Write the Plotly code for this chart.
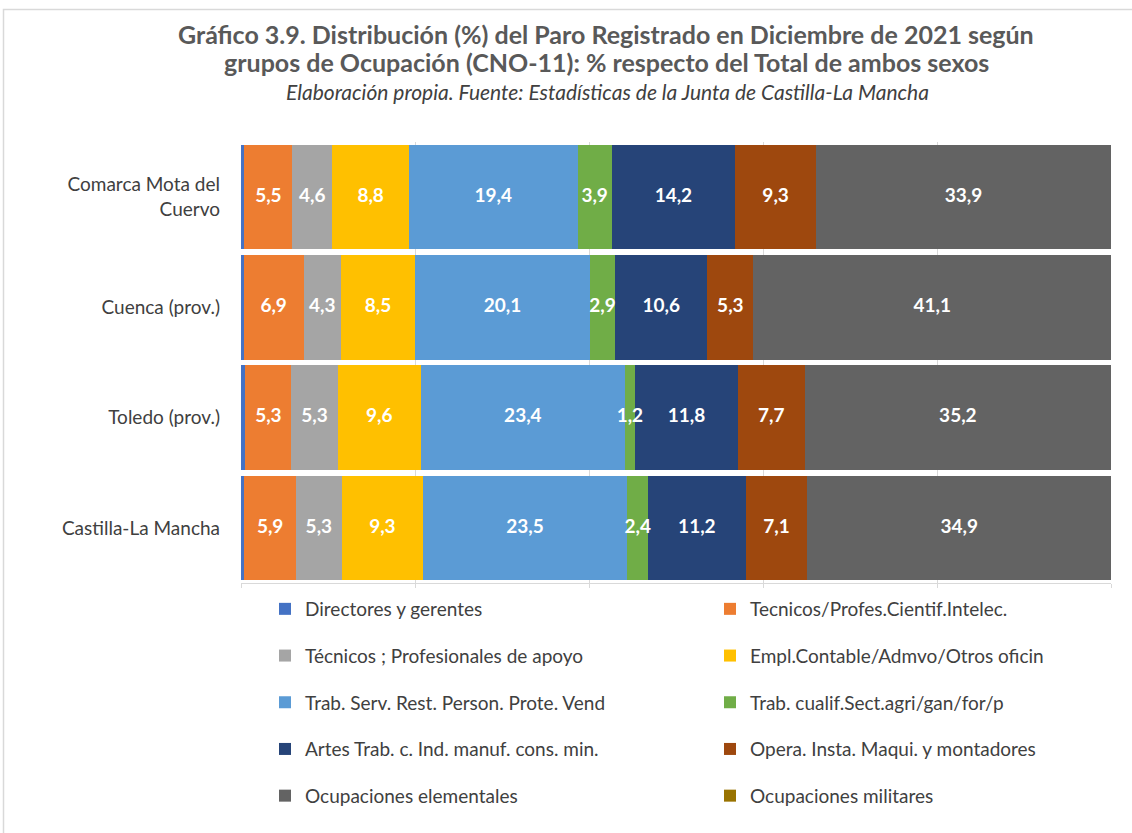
import plotly.graph_objects as go

categories = ["Comarca Mota del<br>Cuervo", "Cuenca (prov.)", "Toledo (prov.)", "Castilla-La Mancha"]

series_names = [
    "Directores y gerentes",
    "Tecnicos/Profes.Cientif.Intelec.",
    "Técnicos ; Profesionales de apoyo",
    "Empl.Contable/Admvo/Otros oficin",
    "Trab. Serv. Rest. Person. Prote. Vend",
    "Trab. cualif.Sect.agri/gan/for/p",
    "Artes Trab. c. Ind. manuf. cons. min.",
    "Opera. Insta. Maqui. y montadores",
    "Ocupaciones elementales",
    "Ocupaciones militares",
]

directores = [0.4, 0.3, 0.5, 0.4]
tecnicos_profes = [5.5, 6.9, 5.3, 5.9]
tecnicos_apoyo = [4.6, 4.3, 5.3, 5.3]
empl_contable = [8.8, 8.5, 9.6, 9.3]
trab_serv = [19.4, 20.1, 23.4, 23.5]
trab_cualif = [3.9, 2.9, 1.2, 2.4]
artes = [14.2, 10.6, 11.8, 11.2]
opera = [9.3, 5.3, 7.7, 7.1]
elementales = [33.9, 41.1, 35.2, 34.9]
militares = [0.0, 0.0, 0.0, 0.0]

series_values = [directores, tecnicos_profes, tecnicos_apoyo, empl_contable, trab_serv,
                 trab_cualif, artes, opera, elementales, militares]
show_labels = [False, True, True, True, True, True, True, True, True, False]

colors = ["#4472C4", "#ED7D31", "#A5A5A5", "#FFC000", "#5B9BD5",
          "#70AD47", "#264478", "#9E480E", "#636363", "#997300"]

FONT = "Lato"
W, H = 1132, 833
# plot area in pixel coordinates
L, R, T, B = 241, 1111, 142, 583

def px_to_xp(px):
    return (px - L) / (R - L)

def px_to_yp(py):
    return (B - py) / (B - T)

fig = go.Figure()
for i, (name, vals, col) in enumerate(zip(series_names, series_values, colors)):
    fig.add_trace(go.Bar(
        y=categories, x=vals, name=name, orientation="h",
        marker=dict(color=col, line=dict(width=0)),
        legend="legend" if i % 2 == 0 else "legend2",
        legendgroup=name,
        hoverinfo="x+name",
    ))

# data labels drawn on top of all bars (centered on each segment)
lab_x, lab_y, lab_t = [], [], []
for ci, cat in enumerate(categories):
    cum = 0.0
    for vals, lab in zip(series_values, show_labels):
        v = vals[ci]
        if lab:
            lab_x.append(cum + v / 2)
            lab_y.append(cat)
            lab_t.append(f"{v:.1f}".replace(".", ","))
        cum += v
fig.add_trace(go.Scatter(
    x=lab_x, y=lab_y, text=lab_t, mode="text", showlegend=False, hoverinfo="skip",
    textposition="middle center", cliponaxis=False,
    textfont=dict(family=FONT, size=19, color="white", weight="bold"),
))

title_font = dict(family=FONT, size=25, color="#595959", weight="bold")

fig.update_layout(
    width=W, height=H,
    barmode="stack", bargap=0.05,
    separators=", ",
    paper_bgcolor="white", plot_bgcolor="white",
    margin=dict(l=L, r=W - R, t=T, b=H - B),
    font=dict(family=FONT, color="#404040"),
    annotations=[
        dict(text="<b>Gráfico 3.9. Distribución (%) del Paro Registrado en Diciembre de 2021 según</b>",
             xref="paper", yref="paper", x=px_to_xp(606), y=px_to_yp(34),
             xanchor="center", yanchor="middle", showarrow=False, font=title_font),
        dict(text="<b>grupos de Ocupación (CNO-11): % respecto del Total de ambos sexos</b>",
             xref="paper", yref="paper", x=px_to_xp(606), y=px_to_yp(62),
             xanchor="center", yanchor="middle", showarrow=False, font=title_font),
        dict(text="<i>Elaboración propia. Fuente: Estadísticas de la Junta de Castilla-La Mancha</i>",
             xref="paper", yref="paper", x=px_to_xp(607), y=px_to_yp(91),
             xanchor="center", yanchor="middle", showarrow=False,
             font=dict(family=FONT, size=21, color="#404040")),
    ],
    xaxis=dict(
        range=[0, 100], showgrid=True, gridcolor="#D9D9D9", gridwidth=1,
        dtick=20, showticklabels=False, zeroline=False,
        showline=True, linecolor="#D9D9D9", ticks="outside", ticklen=4, tickcolor="#D9D9D9",
    ),
    yaxis=dict(
        autorange="reversed", showgrid=False, zeroline=False, showline=False,
        tickfont=dict(family=FONT, size=19, color="#404040"),
        ticks="", ticklabelstandoff=20,
    ),
    legend=dict(
        x=px_to_xp(265), y=px_to_yp(590), xanchor="left", yanchor="top",
        traceorder="grouped", tracegroupgap=19, orientation="v",
        font=dict(family=FONT, size=19, color="#404040"), bgcolor="rgba(0,0,0,0)",
    ),
    legend2=dict(
        x=px_to_xp(710), y=px_to_yp(590), xanchor="left", yanchor="top",
        traceorder="grouped", tracegroupgap=19, orientation="v",
        font=dict(family=FONT, size=19, color="#404040"), bgcolor="rgba(0,0,0,0)",
    ),
    shapes=[dict(
        type="rect", xref="paper", yref="paper",
        x0=px_to_xp(3.5), x1=px_to_xp(1145), y0=px_to_yp(845), y1=px_to_yp(9.5),
        line=dict(color="#D9D9D9", width=1.5), fillcolor="rgba(0,0,0,0)", layer="below",
    )],
)

fig.write_html(
    "out.html",
    config={"displayModeBar": False},
    post_script="document.body.style.margin='0';document.body.style.overflow='hidden';",
)
